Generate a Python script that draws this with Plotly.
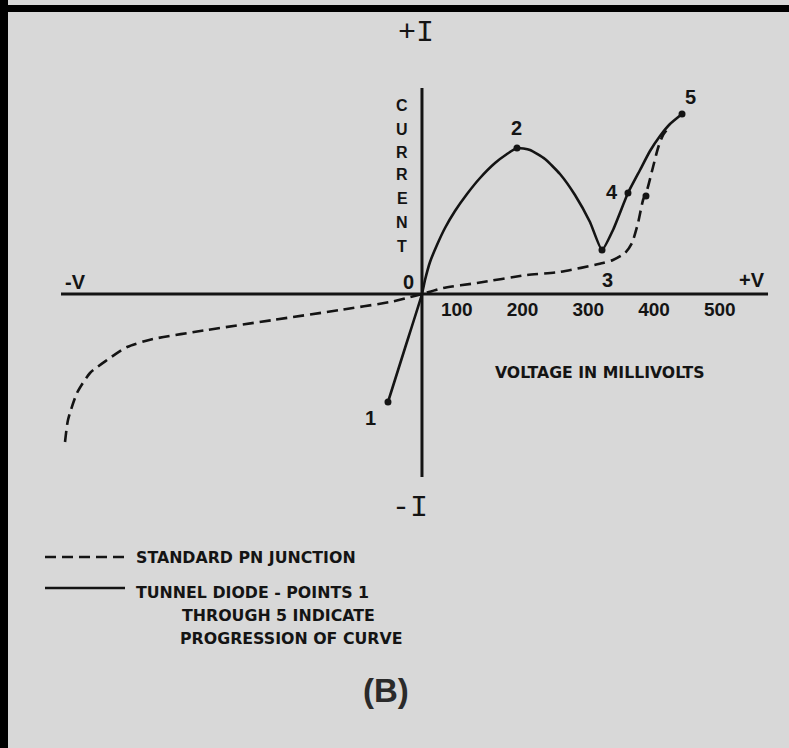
import plotly.graph_objects as go

# ---- data (voltage in mV, current in arbitrary units) ----
tunnel_v = [-4.6, 21.3, 47.1, 51.7, 59.3, 69.9, 82.1, 97.3, 115.6, 135.4, 158.2, 176.4, 191.6,
            211.4, 234.2, 257.0, 279.8, 302.6, 320.9,
            337.6, 360.4, 378.7, 393.9, 409.1, 424.3, 442.6]
tunnel_i = [-10.8, -5.4, 0.0, 1.4, 3.2, 4.9, 6.6, 8.3, 10.0, 11.6, 13.1, 14.0, 14.6,
            14.4, 13.5, 12.0, 9.9, 7.2, 4.4,
            6.4, 10.1, 12.4, 14.3, 15.8, 17.0, 18.0]

pn_v = [-495.8, -491.3, -477.6, -457.8, -431.9, -401.5, -362.0, -279.8, -179.5, -77.6, -1.5, 24.3, 47.1,
        79.1, 130.8, 206.8, 256.7, 322.4, 337.6, 355.9, 366.5, 375.7, 383.3, 389.4, 398.5, 406.1, 413.7, 424.3]
pn_i = [-14.8, -12.6, -9.9, -7.9, -6.6, -5.3, -4.5, -3.6, -2.6, -1.6, -0.8, -0.4, 0.0,
        0.6, 1.1, 1.9, 2.2, 3.1, 3.4, 4.1, 5.1, 7.1, 9.4, 10.4, 12.7, 14.6, 15.9, 16.8]

point_v = [-4.6, 191.6, 320.9, 360.4, 442.6, 387.8]
point_i = [-10.8, 14.6, 4.4, 10.1, 18.0, 9.8]

point_labels = ["1", "2", "3", "4", "5", "0"]
point_label_v = [-31.9, 190.1, 328.5, 336.1, 454.8, 25.9]
point_label_i = [-12.4, 16.6, 1.4, 10.2, 19.7, 1.2]

tick_values = [100, 200, 300, 400, 500]
tick_labels = ["100", "200", "300", "400", "500"]

axis_v_extent = [-501.9, 573.4]
axis_i_extent = [20.6, -18.3]
origin_v = 47.1

current_letters = list("CURRENT")
current_letter_i = [18.9, 16.5, 14.2, 12.0, 9.6, 7.2, 4.8]

x_range = [-594.7, 605.3]
y_range = [-45.4, 29.4]

INK = "#141414"
BG = "#d8d8d8"
FONT = "Liberation Sans"
FONT_W = "DejaVu Sans"

fig = go.Figure()

# axes lines (drawn as data lines)
fig.add_trace(go.Scatter(x=axis_v_extent, y=[0, 0], mode="lines",
                         line=dict(color=INK, width=3), hoverinfo="skip", showlegend=False))
fig.add_trace(go.Scatter(x=[origin_v, origin_v], y=axis_i_extent, mode="lines",
                         line=dict(color=INK, width=3), hoverinfo="skip", showlegend=False))

# standard PN junction (dashed)
fig.add_trace(go.Scatter(x=pn_v, y=pn_i, mode="lines", name="STANDARD PN JUNCTION",
                         line=dict(color=INK, width=2.6, dash="11px,6px", shape="spline", smoothing=0.6),
                         showlegend=False))
# tunnel diode (solid)
fig.add_trace(go.Scatter(x=tunnel_v, y=tunnel_i, mode="lines", name="TUNNEL DIODE",
                         line=dict(color=INK, width=2.6, shape="spline", smoothing=0.5),
                         showlegend=False))
# key points
fig.add_trace(go.Scatter(x=point_v, y=point_i, mode="markers",
                         marker=dict(color=INK, size=7), showlegend=False, hoverinfo="skip"))

def ann(x, y, text, font, **kw):
    d = dict(x=x, y=y, text=text, showarrow=False, xanchor="center", yanchor="middle", font=font)
    d.update(kw)
    return d

annotations = []
for t, v, i in zip(point_labels, point_label_v, point_label_i):
    annotations.append(ann(v, i, t, dict(family=FONT, size=20, color=INK, weight="bold")))
for t, i in zip(current_letters, current_letter_i):
    annotations.append(ann(16.7, i, t, dict(family=FONT, size=16, color=INK, weight="bold")))
annotations += [
    ann(549, 1.4, "+V", dict(family=FONT, size=20, color=INK, weight="bold")),
    ann(-480.6, 1.2, "-V", dict(family=FONT, size=20, color=INK, weight="bold")),
    ann(38, 26.1, "+I", dict(family="Liberation Mono", size=30, color=INK)),
    ann(28.9, -21.4, "-I", dict(family="Liberation Mono", size=30, color=INK)),
    ann(317.9, -7.8, "VOLTAGE IN MILLIVOLTS", dict(family=FONT_W, size=15.7, color=INK, weight="bold")),
]
# legend text (paper coords)
W, H = 789, 748
def px(x):
    return x / W
def py(y):
    return 1 - y / H
legend_texts = [("STANDARD PN JUNCTION", 134, 557), ("TUNNEL DIODE - POINTS 1", 134, 592),
                ("THROUGH 5 INDICATE", 180, 615), ("PROGRESSION OF CURVE", 178, 638)]
for t, x, y in legend_texts:
    annotations.append(ann(px(x), py(y), t, dict(family=FONT_W, size=15.8, color=INK, weight="bold"),
                           xref="paper", yref="paper", xanchor="left"))
annotations.append(ann(px(386), py(690), "(B)", dict(family=FONT, size=33, color="#2a2a2a", weight="bold"),
                       xref="paper", yref="paper"))

shapes = [
    dict(type="line", xref="paper", yref="paper", x0=px(45), x1=px(125), y0=py(557), y1=py(557),
         line=dict(color=INK, width=2.6, dash="11px,6px")),
    dict(type="line", xref="paper", yref="paper", x0=px(45), x1=px(125), y0=py(588), y1=py(588),
         line=dict(color=INK, width=2.6)),
    # frame (left and top)
    dict(type="rect", xref="paper", yref="paper", x0=0, x1=px(8), y0=0, y1=1, fillcolor="#000", line_width=0),
    dict(type="rect", xref="paper", yref="paper", x0=0, x1=1, y0=py(12), y1=py(5), fillcolor="#000", line_width=0),
]

fig.update_layout(
    width=W, height=H, margin=dict(l=0, r=0, t=0, b=0),
    paper_bgcolor=BG, plot_bgcolor=BG,
    xaxis=dict(range=x_range, tickvals=tick_values, ticktext=tick_labels, showgrid=False, zeroline=False,
               showline=False, ticks="", anchor="free", position=py(296),
               tickfont=dict(family=FONT, size=19, color=INK, weight="bold"), fixedrange=True),
    yaxis=dict(range=y_range, visible=False, fixedrange=True),
    annotations=annotations, shapes=shapes, showlegend=False,
)

fig.write_html("out.html", config={"displayModeBar": False},
               post_script="document.body.style.margin='0px'; document.body.style.overflow='hidden';")
